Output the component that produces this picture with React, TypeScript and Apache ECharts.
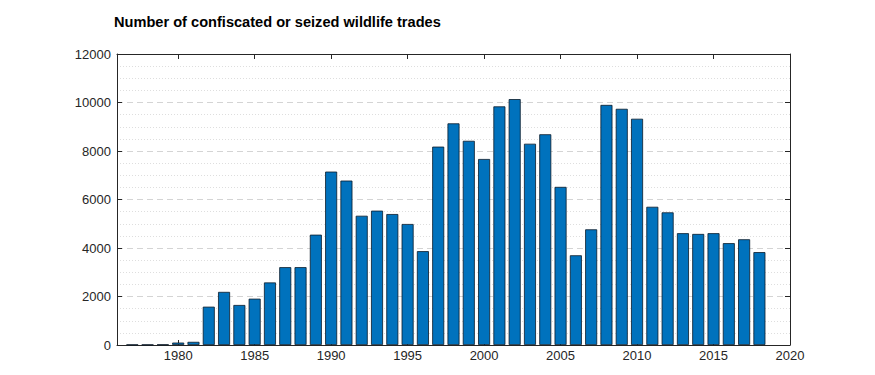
import React, { useEffect, useRef } from "react";
import * as echarts from "echarts";

const years = [
  1977, 1978, 1979, 1980, 1981, 1982, 1983, 1984, 1985, 1986, 1987, 1988, 1989,
  1990, 1991, 1992, 1993, 1994, 1995, 1996, 1997, 1998, 1999, 2000, 2001, 2002,
  2003, 2004, 2005, 2006, 2007, 2008, 2009, 2010, 2011, 2012, 2013, 2014, 2015,
  2016, 2017, 2018,
];
const seizures = [
  15, 15, 20, 100, 130, 1580, 2190, 1650, 1910, 2580, 3210, 3210, 4550, 7150,
  6780, 5330, 5540, 5400, 4990, 3870, 8180, 9140, 8420, 7670, 9840, 10140, 8300,
  8690, 6520, 3700, 4770, 9900, 9740, 9330, 5700, 5470, 4610, 4580, 4610, 4200,
  4360, 3830,
];
const xTicks = [1980, 1985, 1990, 1995, 2000, 2005, 2010, 2015, 2020];
const titleText = "Number of confiscated or seized wildlife trades";

const axisColor = "#262626";
const FONT = "'Liberation Sans', Arial, Helvetica, sans-serif";

export default function App() {
  const ref = useRef<HTMLDivElement>(null);
  useEffect(() => {
    if (!ref.current) return;
    const chart = echarts.init(ref.current, null, { renderer: "svg" });
    const lineStyle = { color: axisColor, width: 1 };
    chart.setOption({
      animation: false,
      backgroundColor: "#ffffff",
      title: {
        text: titleText,
        left: 109,
        top: 9,
        textStyle: {
          fontFamily: FONT,
          fontSize: 14.6,
          fontWeight: "bold",
          color: "#000000",
        },
      },
      grid: { left: 117, right: 85, top: 54, bottom: 30, containLabel: false },
      xAxis: [
        {
          type: "value",
          min: 1976,
          max: 2020,
          position: "bottom",
          axisLine: { show: true, onZero: false, lineStyle },
          axisTick: {
            show: true,
            inside: true,
            length: 5,
            customValues: xTicks,
            lineStyle,
          },
          axisLabel: {
            customValues: xTicks,
            formatter: (v: number) => String(v),
            color: axisColor,
            fontFamily: FONT,
            fontSize: 13,
            margin: 4,
          },
          splitLine: { show: false },
        },
        {
          type: "value",
          min: 1976,
          max: 2020,
          position: "top",
          axisLine: { show: true, onZero: false, lineStyle },
          axisTick: {
            show: true,
            inside: true,
            length: 5,
            customValues: xTicks,
            lineStyle,
          },
          axisLabel: { show: false },
          splitLine: { show: false },
        },
      ],
      yAxis: [
        {
          type: "value",
          min: 0,
          max: 12000,
          interval: 2000,
          position: "left",
          axisLine: { show: true, onZero: false, lineStyle },
          axisTick: { show: true, inside: true, length: 5, lineStyle },
          axisLabel: {
            formatter: (v: number) => String(v),
            color: axisColor,
            fontFamily: FONT,
            fontSize: 13,
            margin: 6,
          },
          splitLine: {
            show: true,
            lineStyle: { color: "#d4d4d4", type: [6, 4], width: 1 },
          },
          minorTick: { show: false, splitNumber: 4 },
          minorSplitLine: {
            show: true,
            lineStyle: { color: "#dedede", type: [1, 2], width: 1 },
          },
        },
        {
          type: "value",
          min: 0,
          max: 12000,
          interval: 2000,
          position: "right",
          axisLine: { show: true, onZero: false, lineStyle },
          axisTick: { show: true, inside: true, length: 5, lineStyle },
          axisLabel: { show: false },
          splitLine: { show: false },
        },
      ],
      series: [
        {
          type: "bar",
          xAxisIndex: 0,
          yAxisIndex: 0,
          barWidth: 12,
          data: years.map((y, i) => [y, seizures[i]]),
          itemStyle: {
            color: "#0072BD",
            borderColor: "#0a1a2a",
            borderWidth: 0.8,
          },
          z: 3,
        },
      ],
    });
    return () => chart.dispose();
  }, []);
  return (
    <div
      ref={ref}
      style={{ position: "fixed", left: 0, top: 0, width: 875, height: 375 }}
    />
  );
}
